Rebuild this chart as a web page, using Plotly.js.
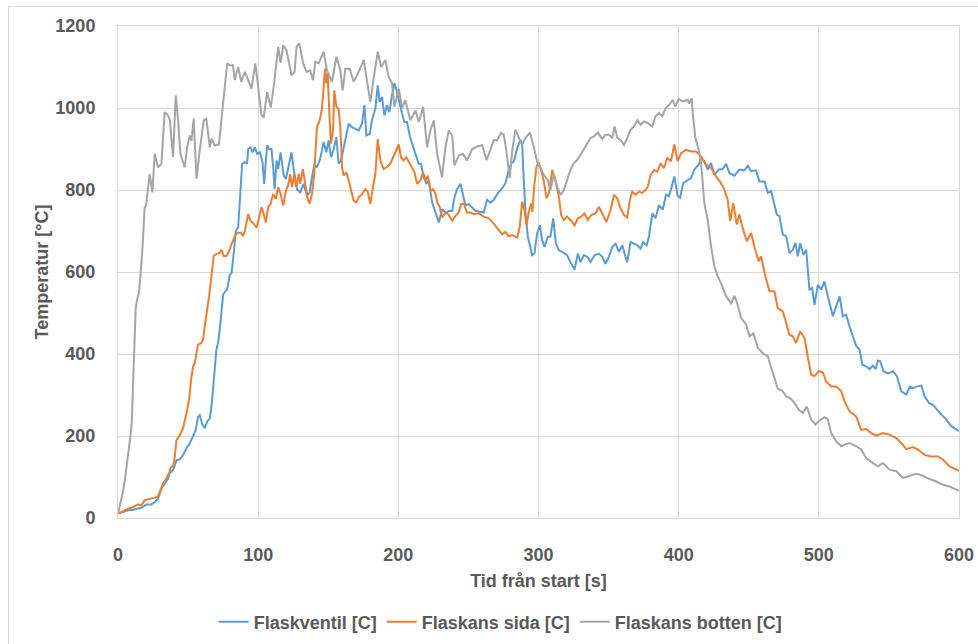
<!DOCTYPE html>
<html>
<head>
<meta charset="utf-8">
<script src="https://cdn.plot.ly/plotly-3.0.1.min.js"></script>
<style>
html,body{margin:0;padding:0;background:#fff;}
#chart{width:978px;height:644px;}
#frame{position:absolute;left:8px;top:6px;width:970px;height:638px;border-left:1px solid #d9d9d9;border-top:1px solid #d9d9d9;pointer-events:none;box-sizing:border-box;}
</style>
</head>
<body>
<div id="chart"></div>
<div id="frame"></div>
<script>
// Flaskventil [C]
const tVentil = [0,3.6,7.1,10.7,14.3,16.7,20.2,23.8,26.2,28.6,31,33.3,35.7,36.9,38.1,39.8,41.7,44,46.4,48.8,51.2,53.6,55.5,57.1,58.3,60.2,61.9,63.6,65.5,66.7,67.9,69,70.2,71.4,72.6,73.8,75,76.2,77.9,79.8,81,82.6,84,85.7,86.9,88.6,90.5,92.1,92.9,94.5,96,97.6,99.3,101.2,103.1,104.3,105.5,106.4,107.9,109.5,110.7,111.7,113.1,114.3,116,117.4,118.3,119.8,121.4,123.8,125.8,127.7,130,132.4,134.8,136.7,138.4,140,141.9,143.9,145.5,146.7,148.6,150.3,151.9,153.9,155.8,157.4,159.1,161,162.9,164.6,167,169.3,171.7,174.1,175.8,177.2,179.6,181.2,183.6,185.3,186.7,188.4,190,191.9,193.6,195.5,197.2,199.1,201,202.7,204.3,206.2,208.1,209.8,212.2,214.6,216.2,218.1,220,221.7,224.1,226.5,228.9,231.2,233.6,236,238.4,240,241.9,244.3,246.2,247.9,250.3,252.7,255,258.5,260.9,263.3,265.7,268.1,270.9,274,276.4,278.8,280.5,282.4,284.8,287.1,288.3,289.5,290.7,292.4,294.3,295.5,297.1,299,301,302.6,304.3,306.6,308.5,310.5,312.4,314.5,316.9,320.4,322.8,325.7,328.1,330,332.4,334.8,337.1,340,343.1,345.5,347.8,350.2,352.6,355,357.4,359.8,361.4,363.3,365.7,368.1,370.5,372.8,374.7,377.1,378.8,381.2,383.5,385.9,388.6,391,392.9,394.5,396.9,399.3,401,403.3,406.4,408.8,411.2,414.3,416,418.3,420.7,423.1,425.5,428.6,431.4,433.8,436.2,439.8,443.3,446.9,449.3,451.7,455.2,457.6,461.2,463.6,466,468.3,470,471.9,474.3,476.7,479,481.4,483.3,485,486.7,489,491,493.3,495.2,496.9,499.3,501.7,504,506.4,508.1,510,512.4,514.8,517.1,519.5,521.9,524.3,526.7,529,531,533.8,536.2,538.6,540.5,542.1,543.8,546.2,549.3,552.9,555.7,558.8,562.4,564.8,567.6,570,573.1,575.5,578.6,581.4,584.3,587.4,591,594.5,600];
const vVentil = [11,15,19,20,24,25,33,33,39,47,72,84,96,110,113,121,141,143,153,170,182,200,215,247,251,227,219,235,243,272,313,362,411,427,460,500,545,551,558,594,597,647,700,708,782,864,868,864,900,904,892,904,888,892,868,815,872,909,900,900,856,802,872,851,892,856,835,827,851,892,839,802,794,815,786,794,831,860,856,872,896,917,892,921,880,900,929,864,872,904,933,962,953,949,945,962,1007,933,937,970,998,1055,1015,1027,982,1007,990,1031,1060,1039,1007,986,966,966,933,913,888,864,864,831,815,823,770,745,721,753,745,749,749,782,802,815,790,762,766,758,749,747,745,776,769,776,792,804,816,849,865,869,902,922,914,824,747,686,661,641,645,694,714,678,661,686,686,731,669,653,649,641,624,606,645,624,641,637,624,641,645,637,620,637,661,669,649,665,645,624,673,669,665,657,673,665,686,743,731,763,752,789,785,801,833,785,781,817,825,829,850,862,878,870,850,866,837,850,851,864,841,835,850,848,859,846,848,821,821,793,797,760,740,736,691,687,646,654,671,638,671,642,654,557,561,520,569,557,577,541,516,492,516,541,492,496,467,443,419,411,374,370,363,372,363,384,382,358,352,358,346,309,301,320,317,321,323,297,280,276,264,252,240,224,212];

// Flaskans sida [C]
const tSida = [0,3.6,7.1,9.5,11.9,14.3,16.7,19,21.4,23.8,26.2,28.6,30.2,32.1,34.5,36.4,37.6,39.3,40.5,41.7,44,46.4,48.8,50.7,52.4,53.6,54.8,56,57.1,59.5,60.7,61.9,63.1,64.3,65,66,67.1,68.3,69.8,72.6,73.8,75.5,77.4,79.3,81,82.6,84,85.7,87.4,89.3,90.5,92.9,94.5,97,98.8,100.7,102.4,104,105.5,107.1,108.8,110.7,112.6,114.3,116,117.9,119.8,121.4,122.9,124.1,125.8,127.2,128.9,130,131.9,133.6,135.3,136.7,138.4,140,141.9,143.9,145.5,146.7,147.7,148.6,149.6,151,151.9,153.4,154.3,155.8,157.4,158.6,159.8,161,162.9,164.6,166.2,168.1,170,171.7,174.1,176.5,178.1,180,181.9,183.6,185.3,187.2,189.5,191.9,194.3,196.2,198.6,200.3,201.9,203.8,205.7,208.1,209.8,211.5,213.4,215.7,217.7,219.3,221,222.9,224.8,226.5,227.7,229.6,231.2,232.9,234.8,236.7,238.4,240.8,243.1,244.8,246.7,249,251.5,253.8,257.4,260.9,264.5,268.1,271.6,274,276.4,278.8,281.2,284.8,286.6,288.3,290,291.4,293.1,294.8,295.7,297.1,298.6,300.2,301.9,303.8,305.7,307.4,309.8,312.1,314.5,316.2,318.1,320.4,322.8,325.7,328.1,330.5,332.8,335.2,337.6,340.7,343.1,345.5,348.5,351.4,353.8,356.2,358.5,361,363.3,365.2,366.9,369.3,371.7,374,376.4,378,380,382.4,384.8,387.1,389.5,391.9,394.5,396.9,399.3,401.7,405.2,408.8,412.4,416,419.5,423.1,426.7,430.2,432.6,435,436.7,439,441.4,443.3,445.7,448.6,451.7,454,457.1,458.8,461.9,464.8,468.3,470.7,474.3,476.7,479,481.4,483.8,486.7,489.8,492.1,494.5,496.9,500,502.9,505.2,508.8,512.4,516,518.3,521.9,526.7,530.2,533.8,537.4,541,545.7,550.5,555.2,558.8,562.4,567.1,570.7,575.5,580.2,585,588.6,593.3,600];
const vSida = [11,16,23,25,29,33,31,43,46,47,49,53,68,84,96,109,123,127,149,190,202,219,255,288,345,370,378,402,423,427,435,468,492,525,541,574,602,639,643,647,654,639,639,651,668,680,692,696,696,688,700,741,725,717,708,733,758,741,721,758,766,790,778,807,790,762,798,811,839,807,839,807,839,815,851,815,778,767,790,839,953,970,998,1051,1096,1060,1084,970,913,945,1043,1004,998,953,856,835,843,823,798,774,770,782,790,802,797,766,807,839,925,872,851,856,864,880,900,911,880,872,880,864,856,843,815,823,843,823,835,798,802,790,770,758,733,741,745,733,725,737,745,766,767,745,745,741,743,735,731,718,702,692,698,687,690,684,710,771,751,714,747,767,747,816,857,867,849,820,780,792,849,824,784,739,727,735,727,714,731,735,743,727,739,743,759,743,722,751,788,780,755,739,733,776,796,788,796,793,800,808,837,849,845,865,853,878,870,911,870,890,898,894,894,882,862,854,833,817,801,776,724,768,716,740,707,675,695,662,626,638,589,553,553,512,504,476,447,443,427,455,439,394,350,346,358,355,333,321,321,309,285,260,248,215,217,207,201,207,203,195,183,168,173,167,154,150,150,142,126,115];

// Flaskans botten [C]
const tBotten = [0,1.7,3.6,5.5,7.1,8.8,9.8,10.7,11.9,12.6,13.6,15,16,17.4,19,20,22.6,24.5,26.2,28.6,31,33.3,35.7,37,39.3,41.2,42.9,44.5,47.6,49.3,51.2,52.4,54,56,58.3,61.2,63,65.5,66.7,69,72,75,77.9,79.8,82,83.3,85.7,88,90.5,92.9,95.2,98,100.5,102.4,104,106.4,109,111.4,114.3,116,117.9,120.2,123.8,126,127.4,129.3,132.1,134.5,137,139.1,140.8,143.1,146.7,149.1,152.7,155.8,158.6,160.3,162.2,165.3,168.1,171.7,175.3,177.7,180,182.4,185.3,187.7,190.8,193.1,195.5,197.2,200.3,202.7,205,208.6,212.2,214.6,217.7,220.5,222.9,225.3,227.7,231.2,233.6,236,238.4,240,243.1,246.2,249,252.7,256.2,259.8,262.9,265.7,268.1,270.4,273.3,275.2,277.1,279.5,281.2,283.5,285.9,288.3,290.7,293.8,296.6,299,301.4,303.8,306.6,308.5,310.9,313.3,315.7,318.1,320.4,322.8,325.2,327.6,330,333.5,337.1,339.5,342.4,345.5,347.8,350.2,352.6,354.3,356.2,358.5,361,363.3,365.7,368.1,370.5,372.8,375.2,378.1,381.2,383.5,385.9,388.3,390.7,393.3,395.7,397.6,400,402.9,406.4,407.6,409.3,410,411.9,414.3,416,418.3,420.7,423.1,425.5,427.9,430.2,433.8,437.4,439.8,442.1,444.5,448.1,450.5,453.3,456.4,460,463.6,467.1,470.7,473.8,476.7,480.2,482.6,485.7,488.6,491.4,494.5,497.6,500.5,504,506.4,508.8,512.4,516,518.3,521.9,526.7,530.2,533.8,538.6,542.1,545.7,550.5,555.2,560,564.8,569.5,574.3,579,583.8,588.6,593.3,600];
const vBotten = [11,35,64,109,149,198,231,313,419,509,533,549,590,655,757,762,839,794,888,855,864,990,982,970,880,1031,970,888,855,904,933,920,974,827,896,970,974,904,925,909,911,1019,1109,1104,1104,1068,1100,1064,1088,1068,1047,1109,1039,982,978,1039,1001,1060,1149,1110,1153,1141,1080,1088,1149,1158,1109,1088,1092,1068,1113,1109,1137,1092,1064,1125,1092,1043,1096,1096,1064,1088,1117,1068,1015,1072,1137,1100,1117,1076,1060,1003,1047,1000,1019,970,994,966,1003,904,945,970,888,831,904,945,933,860,884,888,872,900,906,909,873,898,922,921,939,935,894,829,894,947,927,910,927,940,906,869,853,837,824,800,837,808,788,800,824,849,865,873,886,906,927,931,940,924,935,935,927,955,927,922,910,927,947,955,971,959,967,963,955,980,988,980,1000,1008,1020,1004,1022,1016,1020,1011,1024,988,927,898,866,768,727,662,614,589,573,541,524,542,520,488,472,443,450,415,402,394,354,315,311,297,290,280,264,256,272,240,228,238,246,241,207,187,175,179,183,175,167,146,134,126,134,118,114,98,103,108,103,95,89,81,77,66];

const seriesNames = ['Flaskventil [C]', 'Flaskans sida [C]', 'Flaskans botten [C]'];
const seriesColors = ['#5B9BD5', '#ED7D31', '#A5A5A5'];
const xTicks = [0,100,200,300,400,500,600];
const yTicks = [0,200,400,600,800,1000,1200];

const FONT = 'Liberation Sans, Arial, sans-serif';
const TXT = '#595959';

const xs = [tVentil, tSida, tBotten];
const ys = [vVentil, vSida, vBotten];
const traces = xs.map((x, i) => ({
  type: 'scatter', mode: 'lines', x: x, y: ys[i], name: seriesNames[i],
  line: {color: seriesColors[i], width: 2}
}));

const layout = {
  width: 978, height: 644,
  margin: {l: 118, r: 19, t: 26, b: 126, autoexpand: false},
  paper_bgcolor: '#fff', plot_bgcolor: '#fff',
  font: {family: FONT, color: TXT},
  showlegend: true,
  legend: {orientation: 'h', x: 0.455, xanchor: 'center', yref: 'container', y: 0.034, yanchor: 'middle',
    font: {family: FONT, size: 18, color: TXT, weight: 'bold'}, itemwidth: 30, tracegroupgap: 0},
  xaxis: {
    range: [0, 600], tickvals: xTicks, ticktext: xTicks.map(String), automargin: false,
    showgrid: true, gridcolor: '#d9d9d9', gridwidth: 1,
    showline: true, linecolor: '#d9d9d9', linewidth: 1, mirror: true,
    zeroline: false, ticks: '', ticklabelstandoff: 20,
    tickfont: {family: FONT, size: 18, color: TXT, weight: 'bold'},
    title: {text: 'Tid från start [s]', font: {family: FONT, size: 18, color: TXT, weight: 'bold'}, standoff: 10}
  },
  yaxis: {
    range: [0, 1200], tickvals: yTicks, ticktext: yTicks.map(String), automargin: false,
    showgrid: true, gridcolor: '#d9d9d9', gridwidth: 1,
    showline: true, linecolor: '#d9d9d9', linewidth: 1, mirror: true,
    zeroline: false, ticks: '', ticklabelstandoff: 18,
    tickfont: {family: FONT, size: 18, color: TXT, weight: 'bold'},
    title: {text: 'Temperatur [°C]', font: {family: FONT, size: 18, color: TXT, weight: 'bold'}, standoff: 2}
  }
};

Plotly.newPlot('chart', traces, layout, {displayModeBar: false, staticPlot: true});
</script>
</body>
</html>
